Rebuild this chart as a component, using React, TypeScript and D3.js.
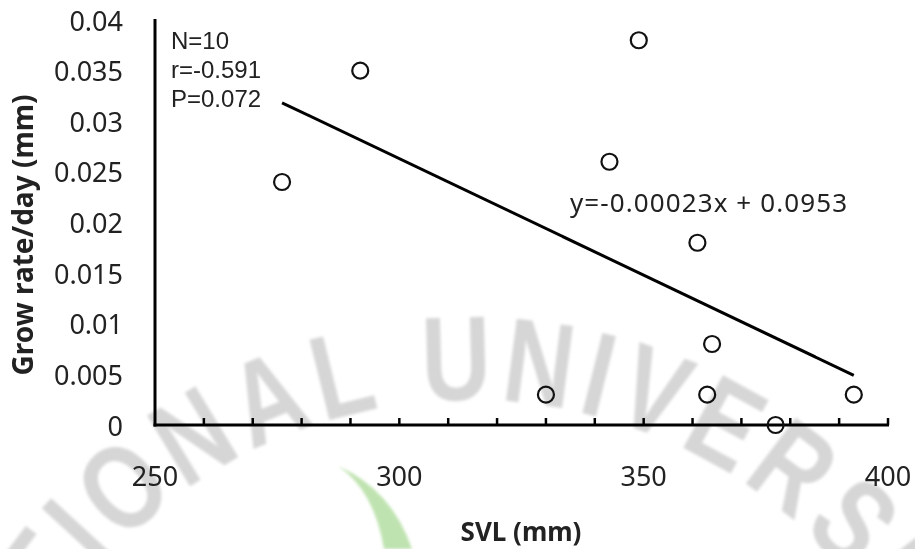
import React from "react";
import * as d3 from "d3";

// Snout-vent length (mm) and daily growth rate (mm/day) per individual
const svl = [276, 292, 330, 343, 349, 361, 364, 363, 377, 393];
const growRate = [0.024, 0.035, 0.003, 0.026, 0.038, 0.018, 0.008, 0.003, 0, 0.003];

// Linear regression fit
const slope = -0.00023;
const intercept = 0.0953;

const statLines = ["N=10", "r=-0.591", "P=0.072"];
const equationLabel = "y=-0.00023x + 0.0953";

const xTickValues = [250, 300, 350, 400];
const xMinorStep = 10;
const yTickValues = [0, 0.005, 0.01, 0.015, 0.02, 0.025, 0.03, 0.035, 0.04];
const yTickLabels = ["0", "0.005", "0.01", "0.015", "0.02", "0.025", "0.03", "0.035", "0.04"];

const xTitle = "SVL (mm)";
const yTitle = "Grow rate/day (mm)";
const watermark = "NATIONAL UNIVERSITY";

const W = 915;
const H = 549;
const FONT = "'Noto Sans', 'Open Sans', sans-serif";
const COMPACT_FONT = "'Liberation Sans', Arial, sans-serif";

// advance widths (em) of the watermark capitals in a bold grotesque face
const capWidth: Record<string, number> = {
  N: 0.722, A: 0.722, T: 0.611, I: 0.278, O: 0.778, L: 0.611, " ": 0.278,
  U: 0.722, V: 0.667, E: 0.667, R: 0.722, S: 0.667, Y: 0.667,
};

function watermarkLetters() {
  const cx = 470;
  const cy = 893;
  const r = 493; // baseline radius
  const size = 120;
  const squeeze = 0.8;
  const spacing = 8;
  const chars = watermark.split("");
  const adv = chars.map((c) => capWidth[c] * size * squeeze + spacing);
  const starts: number[] = [];
  let acc = 0;
  adv.forEach((a) => {
    starts.push(acc);
    acc += a;
  });
  const uIndex = watermark.indexOf("U");
  const uCenter = starts[uIndex] + adv[uIndex] / 2;
  const uAngle = -1.5; // degrees from the top of the arc
  return chars
    .map((c, i) => {
      const s = starts[i] + adv[i] / 2 - uCenter;
      const angle = uAngle + ((s / r) * 180) / Math.PI;
      const rad = (angle * Math.PI) / 180;
      const mx = cx + (r + size * 0.36) * Math.sin(rad);
      const my = cy - (r + size * 0.36) * Math.cos(rad);
      return { c, i, angle, mx, my, cx, cy, r, size, squeeze };
    })
    .filter((d) => d.c !== " " && d.mx > -30 && d.mx < W + 30 && d.my < H + 30);
}

export default function App() {
  const x = d3.scaleLinear().domain([250, 400]).range([155, 888]);
  const y = d3.scaleLinear().domain([0, 0.04]).range([425, 20]);

  const minor = d3.range(250 + xMinorStep, 400 + 0.001, xMinorStep);
  const fitX = d3.extent(svl) as [number, number];
  const fitLine = d3
    .line<number>()
    .x((v) => x(v))
    .y((v) => y(slope * v + intercept))(fitX);

  const letters = watermarkLetters();
  const leaf = "M 338 466 Q 374 490 384 549 L 412 549 Q 392 490 338 466 Z";

  return (
    <svg
      width={W}
      height={H}
      viewBox={`0 0 ${W} ${H}`}
      style={{ position: "absolute", left: 0, top: 0, background: "#fff" }}
    >
      <defs>
        <filter id="soft" x="-10%" y="-10%" width="120%" height="120%">
          <feGaussianBlur stdDeviation="1.8" />
        </filter>
        <clipPath id="page">
          <rect width={W} height={H} />
        </clipPath>
      </defs>
      <rect width={W} height={H} fill="#fff" />

      {/* background watermark */}
      <g filter="url(#soft)" clipPath="url(#page)">
        <path d={leaf} fill="#bfe3b0" />
        {letters.map((d) => (
          <text
            key={d.i}
            transform={`translate(${d.cx},${d.cy}) rotate(${d.angle}) translate(0,${-d.r}) scale(${d.squeeze},1)`}
            fontFamily={COMPACT_FONT}
            fontWeight="bold"
            fontSize={d.size}
            textAnchor="middle"
            fill="#d6d6d6"
          >
            {d.c}
          </text>
        ))}
      </g>

      {/* axes */}
      <g stroke="#000" strokeWidth={3} fill="none">
        <line x1={x(250)} x2={x(250)} y1={y(0.04) - 1} y2={y(0) + 1.5} />
        <line x1={x(250) - 1.5} x2={x(400) + 1} y1={y(0)} y2={y(0)} />
        {minor.map((v) => (
          <line key={v} x1={x(v)} x2={x(v)} y1={y(0)} y2={y(0) - 7} strokeWidth={2.5} />
        ))}
      </g>

      {/* y tick labels */}
      <g fontFamily={FONT} fontSize={27} fill="#222" textAnchor="end">
        {yTickValues.map((v, i) => (
          <text key={v} x={123} y={y(v)} dominantBaseline="central">
            {yTickLabels[i]}
          </text>
        ))}
      </g>

      {/* x tick labels */}
      <g fontFamily={FONT} fontSize={27} fill="#222" textAnchor="middle">
        {xTickValues.map((v) => (
          <text key={v} x={x(v)} y={475} dominantBaseline="central">
            {v}
          </text>
        ))}
      </g>

      {/* axis titles */}
      <text
        x={521}
        y={531}
        fontFamily={FONT}
        fontSize={26}
        fontWeight="bold"
        fill="#222"
        textAnchor="middle"
        dominantBaseline="central"
      >
        {xTitle}
      </text>
      <text
        transform="translate(22,235) rotate(-90)"
        fontFamily={FONT}
        fontSize={28}
        fontWeight="bold"
        fill="#222"
        textAnchor="middle"
        dominantBaseline="central"
      >
        {yTitle}
      </text>

      {/* regression line */}
      <path d={fitLine ?? ""} fill="none" stroke="#000" strokeWidth={3} />

      {/* observations */}
      <g fill="none" stroke="#111" strokeWidth={2.2}>
        {svl.map((v, i) => (
          <circle key={i} cx={x(v)} cy={y(growRate[i])} r={8} />
        ))}
      </g>

      {/* statistics */}
      <g fontFamily={COMPACT_FONT} fontSize={24} fill="#222">
        {statLines.map((s, i) => (
          <text key={s} x={171} y={40 + i * 29} dominantBaseline="central">
            {s}
          </text>
        ))}
      </g>
      <text
        x={570}
        y={202}
        fontFamily={FONT}
        fontSize={26}
        fill="#222"
        dominantBaseline="central"
        textLength={277}
      >
        {equationLabel}
      </text>
    </svg>
  );
}
